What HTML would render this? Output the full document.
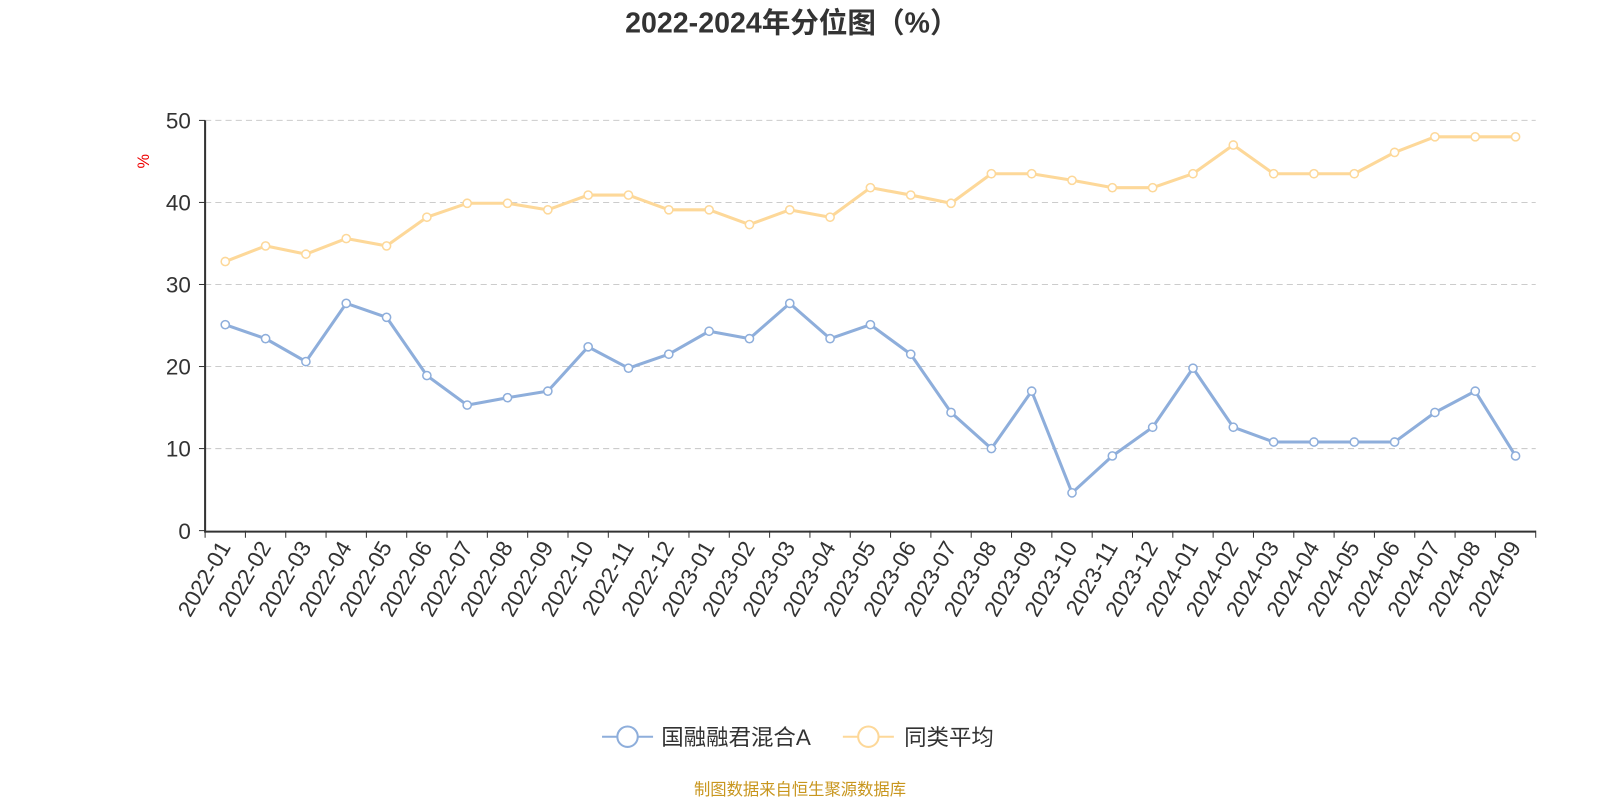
<!DOCTYPE html>
<html><head><meta charset="utf-8">
<style>
html,body{margin:0;padding:0;background:#fff;}
body{width:1600px;height:800px;overflow:hidden;font-family:"Liberation Sans","Noto Sans CJK SC",sans-serif;}
</style></head>
<body>
<svg id="chart" width="1600" height="800" viewBox="0 0 1568 784" xmlns="http://www.w3.org/2000/svg">
<text x="776" y="32" text-anchor="middle" font-size="28" font-weight="bold" fill="#333" font-family="Liberation Sans, Noto Sans CJK SC, sans-serif">2022-2024年分位图（%）</text>
<text x="0" y="0" transform="translate(146,158) rotate(-90)" text-anchor="middle" font-size="16" fill="#e00">%</text>
<g id="grid"></g><g id="axes"></g><g id="series"></g>
<g>
<g>
<line x1="590" y1="722" x2="640" y2="722" stroke="#8eaedb" stroke-width="2"/>
<circle cx="615" cy="722" r="10" fill="#fff" stroke="#8eaedb" stroke-width="2"/>
<text x="648" y="730" font-size="22" fill="#333">国融融君混合A</text></g>
<g>
<line x1="826" y1="722" x2="876" y2="722" stroke="#fdd899" stroke-width="2"/>
<circle cx="851" cy="722" r="10" fill="#fff" stroke="#fdd899" stroke-width="2"/>
<text x="886" y="730" font-size="22" fill="#333">同类平均</text></g>
</g>
<text x="784" y="779" text-anchor="middle" font-size="16" fill="#c8961e">制图数据来自恒生聚源数据库</text>
</svg>
<script>
const categories=["2022-01","2022-02","2022-03","2022-04","2022-05","2022-06","2022-07","2022-08","2022-09","2022-10","2022-11","2022-12","2023-01","2023-02","2023-03","2023-04","2023-05","2023-06","2023-07","2023-08","2023-09","2023-10","2023-11","2023-12","2024-01","2024-02","2024-03","2024-04","2024-05","2024-06","2024-07","2024-08","2024-09"];
const fundValues=[25.1,23.4,20.6,27.7,26.0,18.9,15.3,16.2,17.0,22.4,19.8,21.5,24.3,23.4,27.7,23.4,25.1,21.5,14.4,10.0,17.0,4.6,9.1,12.6,19.8,12.6,10.8,10.8,10.8,10.8,14.4,17.0,9.1];
const peerValues=[32.8,34.7,33.7,35.6,34.7,38.2,39.9,39.9,39.1,40.9,40.9,39.1,39.1,37.3,39.1,38.2,41.8,40.9,39.9,43.5,43.5,42.7,41.8,41.8,43.5,47.0,43.5,43.5,43.5,46.1,48.0,48.0,48.0];
const yTicks=[0,10,20,30,40,50];
const NS="http://www.w3.org/2000/svg";
const X0=201,X1=1505,Y0=520,Y1=118,YMAX=50;
const step=(X1-X0)/categories.length;
const xPos=i=>X0+step*(i+0.5);
const yPos=v=>Y0-(v/YMAX)*(Y0-Y1);
function mk(tag,attrs,parent){const e=document.createElementNS(NS,tag);for(const k in attrs)e.setAttribute(k,attrs[k]);parent.appendChild(e);return e;}
const grid=document.getElementById('grid'),axes=document.getElementById('axes'),series=document.getElementById('series');
yTicks.forEach(t=>{
  const y=yPos(t);
  if(t>0){const g=mk('line',{x1:X0,x2:X1,y1:y,y2:y,stroke:'#ccc','stroke-dasharray':'6,4'},grid);
  
  }
  const tk=mk('line',{x1:X0-6,x2:X0,y1:y,y2:y,stroke:'#333'},axes);
  
  
  const lb=mk('text',{x:X0-14,y:y+8,'text-anchor':'end','font-size':'22',fill:'#333'},axes);
  lb.textContent=t;
  
  
});
const ya=mk('line',{x1:X0,x2:X0,y1:Y1,y2:Y0+2,stroke:'#333','stroke-width':2},axes);


const xa=mk('line',{x1:X0,x2:X1,y1:Y0+1,y2:Y0+1,stroke:'#333','stroke-width':2},axes);


for(let i=0;i<=categories.length;i++){
  const x=X0+step*i;
  const tk=mk('line',{x1:x,x2:x,y1:Y0,y2:Y0+7,stroke:'#333'},axes);
  
  
}
categories.forEach((c,i)=>{
  const x=xPos(i)+6,y=Y0+16;
  const lb=mk('text',{x:x,y:y,'text-anchor':'end','font-size':'22',fill:'#333',transform:`rotate(-60 ${x} ${y})`},axes);
  lb.textContent=c;
  
  
});
function drawSeries(vals,color,name){
  const g=mk('g',{},series);
  
  
  const pts=vals.map((v,i)=>xPos(i)+','+yPos(v)).join(' ');
  const pl=mk('polyline',{points:pts,fill:'none',stroke:color,'stroke-width':3,'stroke-linejoin':'round'},g);
  
  
  vals.forEach((v,i)=>{
    const c=mk('circle',{cx:xPos(i),cy:yPos(v),r:4,fill:'#fff',stroke:color,'stroke-width':1.5},g);
    
    
  });
}
drawSeries(peerValues,'#fdd899','peer-average');
drawSeries(fundValues,'#8eaedb','fund');
</script>
</body></html>
